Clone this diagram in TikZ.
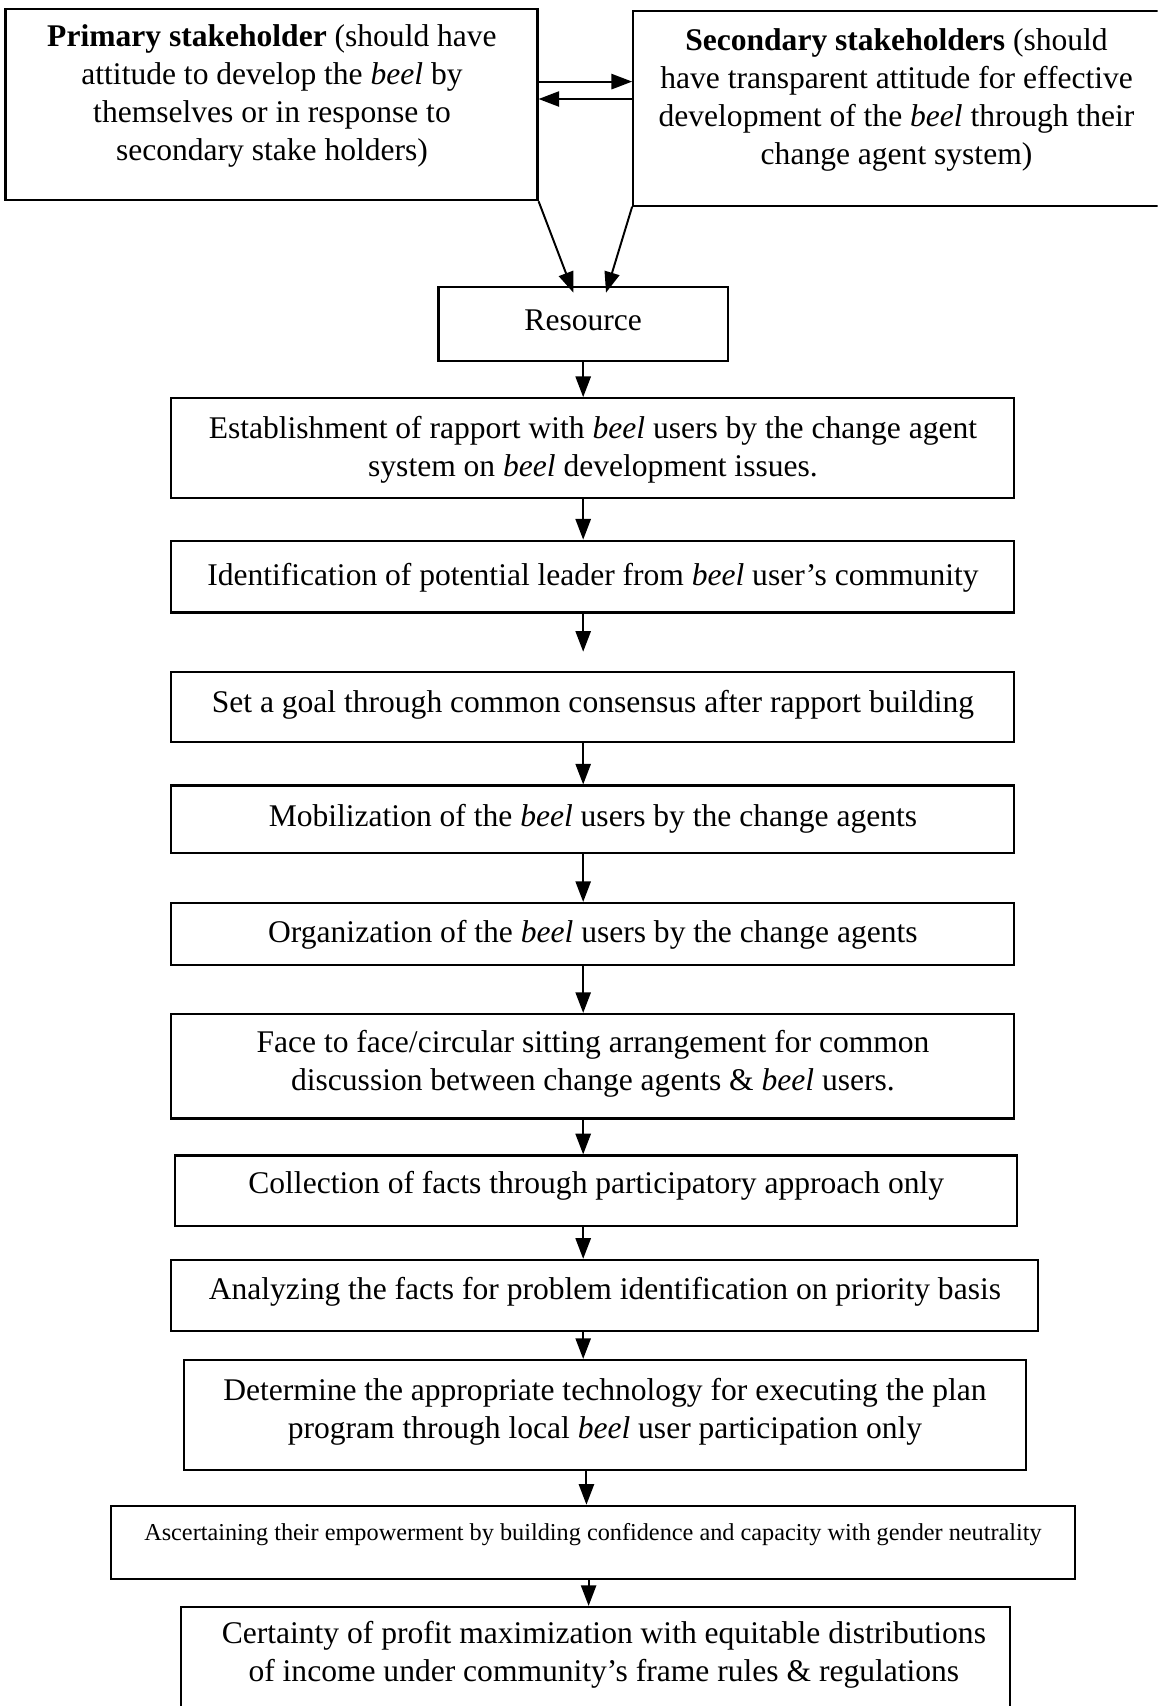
\documentclass[tikz,border=0pt]{standalone}
\usepackage{fontspec}
\setmainfont{Liberation Serif}
\usetikzlibrary{arrows.meta}
\begin{document}
\begin{tikzpicture}[x=1pt,y=-1pt,
  box/.style={draw, line width=2pt, rectangle, inner sep=0pt},
  txt/.style={align=center, font=\fontsize{29}{35}\selectfont, inner sep=0pt},
  smalltxt/.style={align=center, font=\fontsize{22.3}{26}\selectfont, inner sep=0pt},
  arr/.style={line width=1.8pt, -{Triangle[length=19pt,width=14pt]}}]
\useasboundingbox (0,0) rectangle (1064,1568);
\clip (0,0) rectangle (1064,1568);
% boxes
\node[box, minimum width=489pt, minimum height=176pt] (prim) at (249.5,96) {};
\node[box, minimum width=493pt, minimum height=179pt] (sec) at (828.5,99.5) {};
\node[box, minimum width=266pt, minimum height=68pt] (res) at (536,298) {};
\node[box, minimum width=775pt, minimum height=92pt] (b1) at (544.5,412) {};
\node[box, minimum width=775pt, minimum height=66pt] (b2) at (544.5,530) {};
\node[box, minimum width=775pt, minimum height=64pt] (b3) at (544.5,650) {};
\node[box, minimum width=775pt, minimum height=62pt] (b4) at (544.5,753) {};
\node[box, minimum width=775pt, minimum height=57pt] (b5) at (544.5,858.5) {};
\node[box, minimum width=775pt, minimum height=96pt] (b6) at (544.5,980) {};
\node[box, minimum width=774pt, minimum height=65pt] (b7) at (548,1094.5) {};
\node[box, minimum width=797pt, minimum height=65pt] (b8) at (555.5,1190.5) {};
\node[box, minimum width=774pt, minimum height=101pt] (b9) at (556,1300.5) {};
\node[box, minimum width=886pt, minimum height=67pt] (b10) at (545,1417.5) {};
\node[box, minimum width=762pt, minimum height=103pt] (b11) at (547,1528.5) {};
% texts
\node[txt] (tprim) at (250,88) {\textbf{Primary stakeholder} (should have\\ attitude to develop the \textit{beel} by\\ themselves or in response to\\ secondary stake holders)};
\node[txt] (tsec) at (824,92) {\textbf{Secondary stakeholders} (should\\ have transparent attitude for effective\\ development of the \textit{beel} through their\\ change agent system)};
\node[txt] (tres) at (536,294) {Resource};
\node[txt] (t1) at (545,413) {Establishment of rapport with \textit{beel} users by the change agent\\ system on \textit{beel} development issues.};
\node[txt] (t2) at (545,531) {Identification of potential leader from \textit{beel} user’s community};
\node[txt] (t3) at (545,648) {Set a goal through common consensus after rapport building};
\node[txt] (t4) at (545,753) {Mobilization of the \textit{beel} users by the change agents};
\node[txt] (t5) at (545,859) {Organization of the \textit{beel} users by the change agents};
\node[txt] (t6) at (545,978) {Face to face/circular sitting arrangement for common\\ discussion between change agents \& \textit{beel} users.};
\node[txt] (t7) at (548,1090) {Collection of facts through participatory approach only};
\node[txt] (t8) at (556,1187) {Analyzing the facts for problem identification on priority basis};
\node[txt] (t9) at (556,1298) {Determine the appropriate technology for executing the plan\\ program through local \textit{beel} user participation only};
\node[smalltxt] (t10) at (545,1410) {Ascertaining their empowerment by building confidence and capacity with gender neutrality};
\node[txt] (t11) at (555,1521) {Certainty of profit maximization with equitable distributions\\ of income under community’s frame rules \& regulations};
% connectors between stakeholders
\draw[arr] ([yshift=21pt]prim.east) -- ([yshift=21pt]prim.east -| sec.west);
\draw[arr] ([yshift=5pt]prim.east -| sec.west) -- ([yshift=5pt]prim.east);
\draw[arr] (prim.south east) -- ([xshift=-9pt,yshift=-6pt]res.north);
\draw[arr] (sec.south west) -- ([xshift=21pt,yshift=-6pt]res.north);
% vertical flow
\draw[arr] (res.south) -- (b1.north -| res.south);
\draw[arr] (b1.south -| res.south) -- (b2.north -| res.south);
\draw[arr, shorten >=18pt] (b2.south -| res.south) -- (b3.north -| res.south);
\draw[arr] (b3.south -| res.south) -- (b4.north -| res.south);
\draw[arr] (b4.south -| res.south) -- (b5.north -| res.south);
\draw[arr] (b5.south -| res.south) -- (b6.north -| res.south);
\draw[arr] (b6.south -| res.south) -- (b7.north -| res.south);
\draw[arr] (b7.south -| res.south) -- (b8.north -| res.south);
\draw[arr] (b8.south -| res.south) -- (b9.north -| res.south);
\draw[arr] ([xshift=3pt]b9.south -| res.south) -- ([xshift=3pt]b10.north -| res.south);
\draw[arr] ([xshift=5pt]b10.south -| res.south) -- ([xshift=5pt]b11.north -| res.south);
\end{tikzpicture}
\end{document}
